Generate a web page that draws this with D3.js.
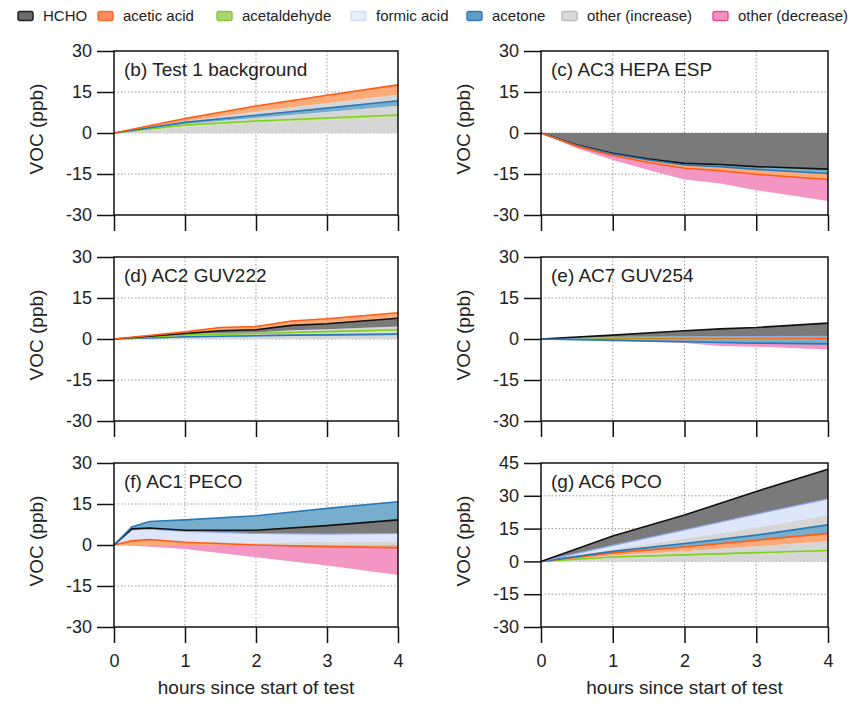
<!DOCTYPE html>
<html>
<head>
<meta charset="utf-8">
<script src="https://cdn.jsdelivr.net/npm/d3@7"></script>
<style>
  body { margin: 0; background: #fff; }
  svg { display: block; font-family: 'Liberation Sans', Arial, sans-serif; }
</style>
</head>
<body>
<div id="chart"></div>
<script>
// Species shown in the legend, with fill / edge colours
const species = ['HCHO', 'acetic acid', 'acetaldehyde', 'formic acid', 'acetone', 'other (increase)', 'other (decrease)'];
const fillColors = ['#7a7a7a', '#fbaa78', '#bce38c', '#dde6fb', '#78aecd', '#d6d6d6', '#f496c4'];
const lineColors = ['#111111', '#ff5b14', '#7fd01a', '#8fa5ea', '#2a78b5', null, null];
const swatchFill = ['#6b6b6b', '#fb8c5c', '#abd86c', '#e6eefc', '#5d9dc8', '#dadada', '#f391c0'];
const swatchStroke = ['#222222', '#ff6a2a', '#88c83e', '#d3dffa', '#3a7db2', '#bcbcbc', '#ea4f9d'];
const legendX = [18, 98, 217, 351, 467, 562, 713];

const hourTicks = [0, 1, 2, 3, 4];

// Stacked layers for each panel (ppb contributed by each layer, bottom to top;
// negative layers stack downward from zero)
const hoursB = [0, 1, 2, 3, 4];
const layersB = [
  ['other (increase)', [0, 2.4, 3.8, 4.8, 5.9]],
  ['acetaldehyde',     [0, 0.5, 0.6, 0.7, 0.7]],
  ['other (increase)', [0, 0.4, 1.1, 2.2, 3.4]],
  ['acetone',          [0, 0.6, 1.0, 1.4, 1.8]],
  ['other (increase)', [0, 0.4, 1.4, 1.9, 2.2]],
  ['acetic acid',      [0, 1.0, 2.0, 2.8, 3.6]]
];

const hoursC = [0, 0.5, 1, 1.5, 2, 2.5, 3, 4];
const layersC = [
  ['HCHO',             [0, -4.4, -7.4, -9.5, -11.1, -11.5, -12.3, -13.2]],
  ['acetone',          [0, -0.2, -0.3, -0.4, -0.6, -0.8, -1.0, -1.6]],
  ['acetic acid',      [0, -0.2, -0.5, -0.9, -1.2, -1.5, -1.8, -2.2]],
  ['other (decrease)', [0, -0.8, -1.7, -2.7, -4.1, -4.7, -5.8, -7.9]]
];

const hoursD = [0, 1, 1.5, 2, 2.5, 3, 4];
const layersD = [
  ['other (increase)', [0, 0.5, 0.7, 0.9, 1.1, 1.2, 1.4]],
  ['acetone',          [0, 0.3, 0.3, 0.3, 0.3, 0.3, 0.4]],
  ['other (increase)', [0, 0.4, 0.5, 0.5, 0.6, 0.8, 1.1]],
  ['acetaldehyde',     [0, 0.3, 0.3, 0.3, 0.4, 0.4, 0.5]],
  ['other (increase)', [0, 0.2, 0.4, 0.4, 0.8, 0.9, 1.2]],
  ['HCHO',             [0, 0.3, 0.8, 1.0, 1.8, 2.0, 3.0]],
  ['acetic acid',      [0, 0.6, 1.2, 1.2, 1.6, 1.8, 2.0]]
];

const hoursE = [0, 1, 2, 2.5, 3, 4];
const layersE = [
  ['acetic acid',      [0, 0.3, 0.3, 0.3, 0.3, 0.3]],
  ['acetaldehyde',     [0, 0.2, 0.3, 0.3, 0.3, 0.4]],
  ['formic acid',      [0, 0.1, 0.2, 0.2, 0.3, 0.3]],
  ['HCHO',             [0, 0.8, 2.2, 2.9, 3.3, 4.8]],
  ['acetone',          [0, -0.5, -1.0, -1.3, -1.5, -1.8]],
  ['other (decrease)', [0, -0.1, -0.5, -1.3, -1.3, -2.0]]
];

const hoursF = [0, 0.25, 0.5, 1, 2, 3, 4];
const layersF = [
  ['acetic acid',      [0, 1.5, 2.0, 1.0, 0, -0.6, -1.0]],
  ['other (increase)', [0, 0, 0, 0.3, 0.8, 1.2, 1.4]],
  ['formic acid',      [0, 4.1, 3.9, 3.7, 3.4, 2.8, 2.8]],
  ['HCHO',             [0, 0.3, 0.3, 0.4, 1.2, 3.1, 5.0]],
  ['acetone',          [0, 0.7, 2.4, 3.8, 5.3, 6.3, 6.6]],
  ['other (decrease)', [0, -0.3, -0.6, -1.5, -4.5, -6.9, -10.0]]
];

const hoursG = [0, 1, 2, 3, 4];
const layersG = [
  ['other (increase)', [0, 1.5, 2.5, 3.5, 4.5]],
  ['acetaldehyde',     [0, 0.5, 0.5, 0.5, 0.5]],
  ['other (increase)', [0, 0.7, 1.6, 2.9, 4.2]],
  ['acetic acid',      [0, 1.2, 2.0, 2.8, 3.6]],
  ['acetone',          [0, 0.7, 1.6, 2.3, 3.9]],
  ['other (increase)', [0, 0.9, 2.3, 3.5, 4.5]],
  ['formic acid',      [0, 1.8, 3.9, 6.1, 7.4]],
  ['HCHO',             [0, 4.3, 6.8, 10.4, 13.5]]
];

const panels = [
  {title: '(b) Test 1 background', hours: hoursB, layers: layersB, yDomain: [-30, 30], col: 0, row: 0},
  {title: '(c) AC3 HEPA ESP',      hours: hoursC, layers: layersC, yDomain: [-30, 30], col: 1, row: 0},
  {title: '(d) AC2 GUV222',        hours: hoursD, layers: layersD, yDomain: [-30, 30], col: 0, row: 1},
  {title: '(e) AC7 GUV254',        hours: hoursE, layers: layersE, yDomain: [-30, 30], col: 1, row: 1},
  {title: '(f) AC1 PECO',          hours: hoursF, layers: layersF, yDomain: [-30, 30], col: 0, row: 2},
  {title: '(g) AC6 PCO',           hours: hoursG, layers: layersG, yDomain: [-30, 45], col: 1, row: 2}
];

// Layout
const width = 851, height = 704;
const colLeft = [114, 541];
const colWidth = [284, 287];
const rowTop = [51, 257, 463];
const plotHeight = 164;

const svg = d3.select('#chart').append('svg')
  .attr('width', width)
  .attr('height', height);

//Stack positive values upward and negative values downward from zero
function signedOffset(series, order) {
  const n = series[0].length;
  for (let j = 0; j < n; ++j) {
    let yp = 0, yn = 0;
    for (let i = 0; i < order.length; ++i) {
      const d = series[order[i]][j];
      const dy = d[1] - d[0];
      if (dy >= 0) { d[0] = yp; d[1] = yp += dy; }
      else { d[1] = yn; d[0] = yn += dy; }
    }
  }
}

function drawPanel(p) {
  const left = colLeft[p.col], top = rowTop[p.row];
  const w = colWidth[p.col], h = plotHeight;
  const bottomRow = p.row === 2;

  const x = d3.scaleLinear().domain([0, 4]).range([0, w]);
  const y = d3.scaleLinear().domain(p.yDomain).range([h, 0]);
  const yTicks = d3.range(p.yDomain[0], p.yDomain[1] + 1, 15);

  const g = svg.append('g')
    .attr('transform', 'translate(' + left + ',' + top + ')');

  //Dotted grid
  g.append('g').selectAll('line')
    .data(hourTicks.slice(1, -1))
    .enter().append('line')
    .attr('x1', d => x(d)).attr('x2', d => x(d))
    .attr('y1', 0).attr('y2', h)
    .attr('stroke', '#999').attr('stroke-width', 1)
    .attr('stroke-dasharray', '1.5,2');

  g.append('g').selectAll('line')
    .data(yTicks.slice(1, -1))
    .enter().append('line')
    .attr('x1', 0).attr('x2', w)
    .attr('y1', d => y(d)).attr('y2', d => y(d))
    .attr('stroke', '#999').attr('stroke-width', 1)
    .attr('stroke-dasharray', '1.5,2');

  //Stacked areas
  const rows = p.hours.map((hr, j) => p.layers.map(l => l[1][j]));
  const stack = d3.stack()
    .keys(p.layers.map((l, i) => i))
    .value((row, key) => row[key])
    .offset(signedOffset);
  const series = stack(rows);

  const area = d3.area()
    .x((d, j) => x(p.hours[j]))
    .y0(d => y(d[0]))
    .y1(d => y(d[1]));

  g.append('g').selectAll('path')
    .data(series)
    .enter().append('path')
    .attr('d', area)
    .attr('fill', s => fillColors[species.indexOf(p.layers[s.key][0])])
    .attr('stroke', 'none');

  //Edge line on the outer side of each species layer
  series.forEach(s => {
    const name = p.layers[s.key][0];
    const color = lineColors[species.indexOf(name)];
    if (!color) return;
    const vals = p.layers[s.key][1];
    const edge = d3.line()
      .x((d, j) => x(p.hours[j]))
      .y((d, j) => y(vals[j] < 0 ? d[0] : d[1]));
    g.append('path')
      .attr('d', edge(s))
      .attr('fill', 'none')
      .attr('stroke', color)
      .attr('stroke-width', name === 'formic acid' ? 1.2 : 1.6);
  });

  //Axes
  const yAxis = g.append('g')
    .call(d3.axisLeft(y).tickValues(yTicks).tickSize(17).tickPadding(5).tickFormat(d => String(d)));
  const xAxis = g.append('g')
    .attr('transform', 'translate(0,' + h + ')')
    .call(d3.axisBottom(x).tickValues(hourTicks).tickSize(16).tickPadding(11)
      .tickFormat(d => bottomRow ? String(d) : ''));

  [xAxis, yAxis].forEach(ax => {
    ax.select('.domain').remove();
    ax.selectAll('.tick line').attr('stroke', '#111').attr('stroke-width', 1.5);
    ax.selectAll('.tick text')
      .attr('fill', '#222')
      .style('font-size', '18px')
      .style('font-family', "'Liberation Sans', Arial, sans-serif");
  });

  //Frame
  g.append('rect')
    .attr('width', w).attr('height', h)
    .attr('fill', 'none')
    .attr('stroke', '#111').attr('stroke-width', 1.5);

  //Panel title
  g.append('text')
    .attr('x', 10).attr('y', 25)
    .attr('fill', '#222')
    .style('font-size', '19px')
    .text(p.title);

  //Y label
  g.append('text')
    .attr('transform', 'translate(-78,' + (h / 2 - 4) + ') rotate(-90)')
    .attr('text-anchor', 'middle')
    .attr('dy', '0.35em')
    .attr('fill', '#222')
    .style('font-size', '19px')
    .text('VOC (ppb)');

  if (bottomRow) {
    g.append('text')
      .attr('x', w / 2).attr('y', h + 67)
      .attr('text-anchor', 'middle')
      .attr('fill', '#222')
      .style('font-size', '19px')
      .text('hours since start of test');
  }
}

panels.forEach(drawPanel);

//Legend
const legend = svg.append('g').attr('class', 'legend');
species.forEach((name, i) => {
  const item = legend.append('g')
    .attr('transform', 'translate(' + legendX[i] + ',16)');
  item.append('rect')
    .attr('x', 0).attr('y', -4.5)
    .attr('width', 15).attr('height', 9)
    .attr('rx', 2)
    .attr('fill', swatchFill[i])
    .attr('stroke', swatchStroke[i])
    .attr('stroke-width', 1.5);
  item.append('text')
    .attr('x', 25).attr('dy', '0.35em')
    .attr('fill', '#222')
    .style('font-size', '15px')
    .text(name);
});
</script>
</body>
</html>
